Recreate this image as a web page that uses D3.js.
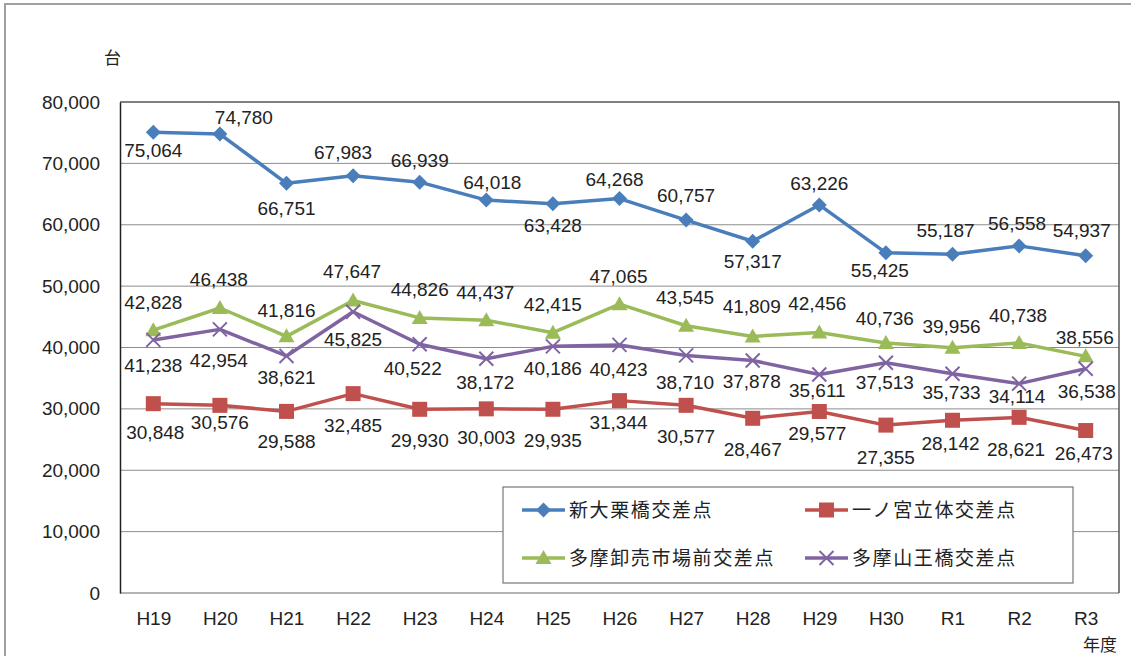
<!DOCTYPE html>
<html>
<head>
<meta charset="utf-8">
<script src="https://cdn.jsdelivr.net/npm/d3@7"></script>
<style>
  body { margin: 0; background: #fff; }
  svg { display: block; }
  .num { font-family: "Liberation Sans", Arial, sans-serif; font-size: 19px; fill: #222; }
  .jp { font-family: "Noto Sans CJK JP", sans-serif; font-size: 17px; fill: #222; }
</style>
</head>
<body>
<div id="chart-area"></div>
<script>
// Data
const years = ['H19', 'H20', 'H21', 'H22', 'H23', 'H24', 'H25', 'H26', 'H27', 'H28', 'H29', 'H30', 'R1', 'R2', 'R3']
const seriesNames = ['新大栗橋交差点', '一ノ宮立体交差点', '多摩卸売市場前交差点', '多摩山王橋交差点']
const shinOkuri = [75064, 74780, 66751, 67983, 66939, 64018, 63428, 64268, 60757, 57317, 63226, 55425, 55187, 56558, 54937]
const ichinomiya = [30848, 30576, 29588, 32485, 29930, 30003, 29935, 31344, 30577, 28467, 29577, 27355, 28142, 28621, 26473]
const tamaOroshi = [42828, 46438, 41816, 47647, 44826, 44437, 42415, 47065, 43545, 41809, 42456, 40736, 39956, 40738, 38556]
const tamaSanno = [41238, 42954, 38621, 45825, 40522, 38172, 40186, 40423, 38710, 37878, 35611, 37513, 35733, 34114, 36538]
const yTicks = [0, 10000, 20000, 30000, 40000, 50000, 60000, 70000, 80000]

const canvas = { width: 1131, height: 656 }
const plot = { left: 120, right: 1119, top: 102, bottom: 593 }

// label nudges (px from the marker)
const labelDy = [
	[18, -17, 25, -24, -22, -18, 21, -19, -25, 20, -22, 17, -24, -23, -26],
	[28, 17, 30, 32, 31, 28, 31, 22, 31, 31, 22, 32, 23, 32, 23],
	[-28, -29, -26, -29, -29, -28, -29, -28, -29, -30, -29, -25, -22, -28, -19],
	[25, 31, 21, 27, 24, 23, 22, 24, 27, 21, 16, 19, 18, 13, 22]
]
const labelDx = [
	[0, 24, 0, -10, 0, 6, 0, -5, 0, 0, 0, -6, -7, -2, -4],
	[2, 0, 0, 0, 0, 0, 0, -1, 0, 0, -2, 0, -2, -3, -2],
	[0, -1, 0, -1, 0, -1, 0, -1, -1, -1, -2, -1, -1, -1, -1],
	[0, -1, 0, 0, -7, -1, 0, -1, -1, -1, -2, -1, -1, -2, 1]
]

const series = [
	{ name: seriesNames[0], values: shinOkuri, color: '#4A7EBB', marker: 'diamond' },
	{ name: seriesNames[1], values: ichinomiya, color: '#C0504D', marker: 'square' },
	{ name: seriesNames[2], values: tamaOroshi, color: '#9BBB59', marker: 'triangle' },
	{ name: seriesNames[3], values: tamaSanno, color: '#8064A2', marker: 'x' }
]

const svg = d3.select('#chart-area')
	.append('svg')
		.attr('width', canvas.width)
		.attr('height', canvas.height)

// outer frame
svg.append('rect')
	.attr('x', 5).attr('y', 4)
	.attr('width', 1140).attr('height', 700)
	.attr('fill', 'none')
	.attr('stroke', '#a0a0a0')
	.attr('stroke-width', 2)

// Scales
const x = d3.scalePoint()
	.domain(years)
	.range([plot.left, plot.right])
	.padding(0.5)
const y = d3.scaleLinear()
	.domain([0, 80000])
	.range([plot.bottom, plot.top])

// Gridlines
svg.append('g')
	.selectAll('line')
	.data(yTicks.filter(d => d > 0 && d < 80000))
	.enter().append('line')
		.attr('x1', plot.left).attr('x2', plot.right)
		.attr('y1', d => y(d)).attr('y2', d => y(d))
		.attr('stroke', '#8c8c8c')
		.attr('stroke-width', 1)

// bottom line (0)
svg.append('line')
	.attr('x1', plot.left).attr('x2', plot.right)
	.attr('y1', y(0)).attr('y2', y(0))
	.attr('stroke', '#9a9a9a').attr('stroke-width', 1.5)

// plot border top/right
svg.append('path')
	.attr('d', `M${plot.left},${plot.top}H${plot.right}V${plot.bottom}`)
	.attr('fill', 'none')
	.attr('stroke', '#555')
	.attr('stroke-width', 1.5)

// Y axis
const yAxis = d3.axisLeft(y)
	.tickValues(yTicks)
	.tickSize(0)
	.tickPadding(20)
	.tickFormat(d3.format(','))
const yAxisG = svg.append('g')
	.attr('transform', `translate(${plot.left}, 0)`)
	.call(yAxis)
yAxisG.select('.domain').attr('stroke', '#222').attr('stroke-width', 1.5)
yAxisG.selectAll('text').attr('class', 'num').attr('font-size', null).attr('font-family', null)

// X axis
const xAxis = d3.axisBottom(x).tickSize(0).tickPadding(19)
const xAxisG = svg.append('g')
	.attr('transform', `translate(0, ${plot.bottom})`)
	.call(xAxis)
xAxisG.select('.domain').remove()
xAxisG.selectAll('text').attr('class', 'num').attr('font-size', null).attr('font-family', null)

// Units
svg.append('text').attr('class', 'jp').attr('x', 104).attr('y', 64).text('台')
svg.append('text').attr('class', 'jp').attr('x', 1083).attr('y', 651).text('年度')

// Markers
function drawMarker(sel, type, color) {
	if (type === 'diamond') {
		sel.append('path').attr('d', 'M0,-7.5L7.5,0L0,7.5L-7.5,0Z').attr('fill', color)
	} else if (type === 'square') {
		sel.append('rect').attr('x', -7.5).attr('y', -7.5).attr('width', 15).attr('height', 15).attr('fill', color)
	} else if (type === 'triangle') {
		sel.append('path').attr('d', 'M0,-8L8,6L-8,6Z').attr('fill', color)
	} else {
		sel.append('path').attr('d', 'M-7,-7L7,7M-7,7L7,-7').attr('stroke', color).attr('stroke-width', 2).attr('fill', 'none')
	}
}

const line = d3.line()
	.x((d, i) => x(years[i]))
	.y(d => y(d))

series.forEach((s, si) => {
	const g = svg.append('g')
	g.append('path')
		.datum(s.values)
		.attr('d', line)
		.attr('fill', 'none')
		.attr('stroke', s.color)
		.attr('stroke-width', 3.5)
		.attr('stroke-linejoin', 'round')
	s.values.forEach((v, i) => {
		const m = g.append('g').attr('transform', `translate(${x(years[i])}, ${y(v)})`)
		drawMarker(m, s.marker, s.color)
	})
})

// Data labels
series.forEach((s, si) => {
	svg.append('g')
		.selectAll('text')
		.data(s.values)
		.enter().append('text')
			.attr('class', 'num')
			.attr('text-anchor', 'middle')
			.attr('x', (d, i) => x(years[i]) + labelDx[si][i])
			.attr('y', (d, i) => y(d) + labelDy[si][i])
			.attr('dy', '0.36em')
			.text(d => d3.format(',')(d))
})

// Legend
const legend = svg.append('g')
legend.append('rect')
	.attr('x', 503).attr('y', 487)
	.attr('width', 570).attr('height', 96)
	.attr('fill', '#fff')
	.attr('stroke', '#777')
	.attr('stroke-width', 1.2)

const legendPos = [[522, 510], [805, 510], [522, 558], [805, 558]]
series.forEach((s, i) => {
	const row = legend.append('g')
		.attr('transform', `translate(${legendPos[i][0]}, ${legendPos[i][1]})`)
	row.append('line')
		.attr('x1', 0).attr('x2', 43)
		.attr('stroke', s.color)
		.attr('stroke-width', 3.5)
	const m = row.append('g').attr('transform', 'translate(21.5, 0)')
	drawMarker(m, s.marker, s.color)
	row.append('text')
		.attr('class', 'jp')
		.attr('x', 47)
		.attr('y', 0)
		.attr('dy', '0.36em')
		.style('font-size', '19px')
		.attr('letter-spacing', '1.6px')
		.text(s.name)
})
</script>
</body>
</html>
